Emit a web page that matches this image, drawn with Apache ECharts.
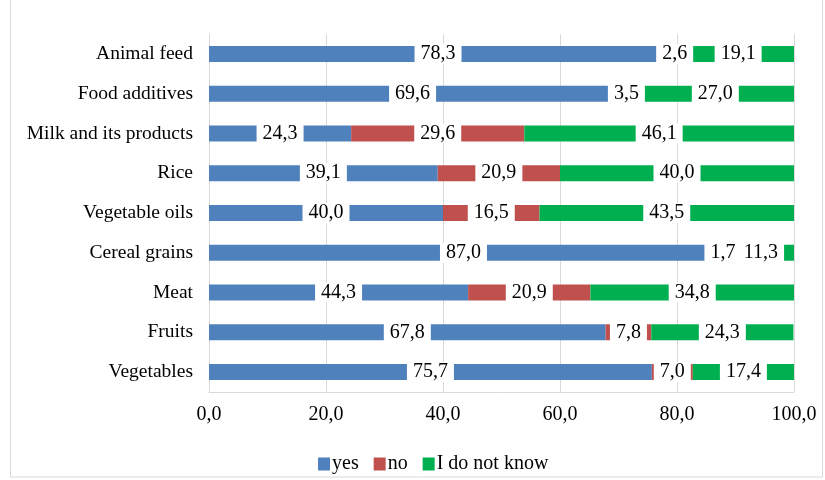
<!DOCTYPE html>
<html>
<head>
<meta charset="utf-8">
<script src="https://cdn.jsdelivr.net/npm/echarts@6/dist/echarts.min.js"></script>
<style>
  html, body { margin: 0; padding: 0; background: #fff; }
  #chart { width: 825px; height: 480px; }
</style>
</head>
<body>
<div id="chart"></div>
<script>
// categories listed top to bottom
var categories = ['Animal feed', 'Food additives', 'Milk and its products', 'Rice',
  'Vegetable oils', 'Cereal grains', 'Meat', 'Fruits', 'Vegetables']
var yes = [78.3, 69.6, 24.3, 39.1, 40.0, 87.0, 44.3, 67.8, 75.7]
var no = [2.6, 3.5, 29.6, 20.9, 16.5, 1.7, 20.9, 7.8, 7.0]
var dontKnow = [19.1, 27.0, 46.1, 40.0, 43.5, 11.3, 34.8, 24.3, 17.4]
var xTicks = [0, 20, 40, 60, 80, 100]

var font = '"Liberation Serif", "DejaVu Serif", serif'
function comma(v) {
  return Number(v).toFixed(1).replace('.', ',')
}

function makeSeries(name, data, color) {
  return {
    name: name,
    type: 'bar',
    stack: 'total',
    data: data,
    barWidth: 16,
    itemStyle: { color: color },
    label: {
      show: true,
      position: 'inside',
      color: '#000',
      fontFamily: font,
      fontSize: 20,
      backgroundColor: '#fff',
      padding: [0, 6],
      formatter: function (p) { return comma(p.value) }
    }
  }
}

var chart = echarts.init(document.getElementById('chart'))
chart.setOption({
  animation: false,
  graphic: [{
    type: 'rect',
    shape: { x: 10.5, y: -2, width: 812, height: 479 },
    style: { fill: 'none', stroke: '#d9d9d9', lineWidth: 1 },
    z: -1
  }],
  grid: { left: 209, right: 31, top: 34, bottom: 88 },
  legend: {
    left: 313,
    top: 449,
    itemWidth: 12,
    itemHeight: 13,
    itemGap: 15,
    icon: 'rect',
    textStyle: { fontFamily: font, fontSize: 20, color: '#000', padding: [0, 0, 0, -3] },
    data: ['yes', 'no', 'I do not know']
  },
  xAxis: {
    type: 'value',
    min: xTicks[0],
    max: xTicks[xTicks.length - 1],
    interval: 20,
    axisLine: { show: true, lineStyle: { color: '#d9d9d9' } },
    axisTick: { show: false },
    axisLabel: {
      color: '#000',
      fontFamily: font,
      fontSize: 20,
      margin: 13,
      formatter: comma
    },
    splitLine: { show: true, lineStyle: { color: '#d9d9d9', width: 1 } }
  },
  yAxis: {
    type: 'category',
    inverse: true,
    data: categories,
    axisLine: { show: true, lineStyle: { color: '#d9d9d9' } },
    axisTick: { show: false },
    axisLabel: { color: '#000', fontFamily: font, fontSize: 19.5, margin: 16 }
  },
  series: [
    makeSeries('yes', yes, '#4f81bd'),
    makeSeries('no', no, '#c0504d'),
    makeSeries('I do not know', dontKnow, '#00b050')
  ]
})
</script>
</body>
</html>
